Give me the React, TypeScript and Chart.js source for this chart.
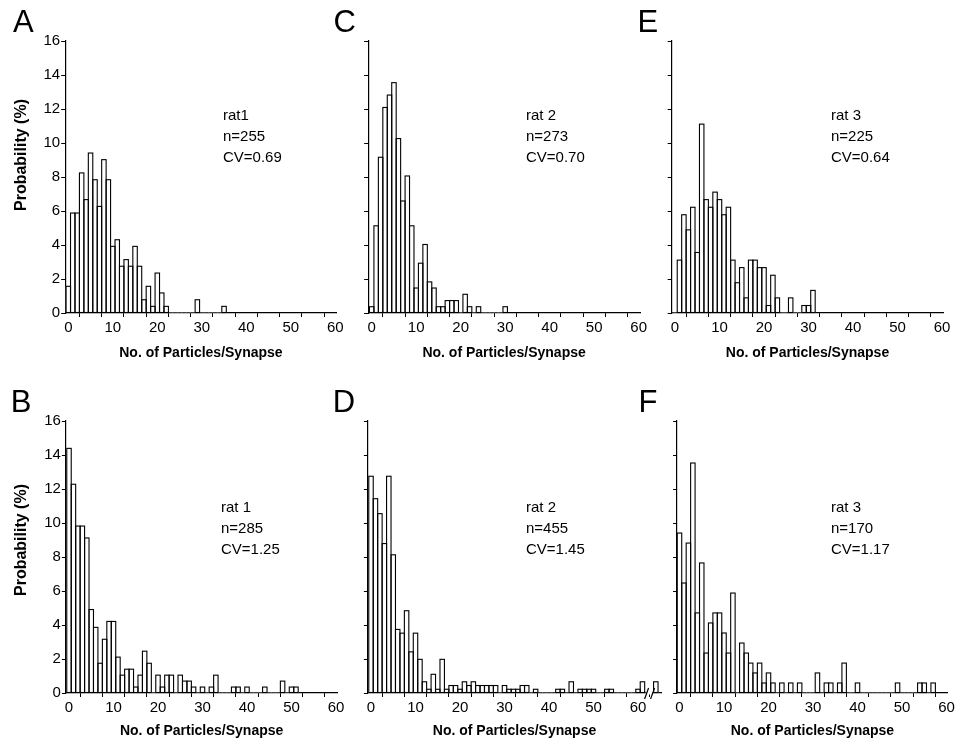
import React, { useEffect, useRef } from 'react';
import { Chart, registerables } from 'chart.js';

Chart.register(...registerables);

const FONT_FAMILY = '"Liberation Sans", Arial, Helvetica, sans-serif';

// ---------------- data: probability (%) per 1-particle bin (index = particles/synapse) ----------------
const rat1SetA = [
  1.57, 5.88, 5.88, 8.24, 6.67, 9.41, 7.84, 6.27, 9.02, 7.84,
  3.92, 4.31, 2.75, 3.14, 2.75, 3.92, 2.75, 0.78, 1.57, 0.39,
  2.35, 1.18, 0.39, 0, 0, 0, 0, 0, 0, 0.78,
  0, 0, 0, 0, 0, 0.39,
];
const rat2SetC = [
  0.37, 5.13, 9.16, 12.09, 12.82, 13.55, 10.26, 6.59, 8.06, 5.13,
  1.47, 2.93, 4.03, 1.83, 1.47, 0.37, 0.37, 0.73, 0.73, 0.73,
  0, 1.1, 0.37, 0, 0.37, 0, 0, 0, 0, 0,
  0.37,
];
const rat3SetE = [
  0, 3.11, 5.78, 4.89, 6.22, 3.56, 11.11, 6.67, 6.22, 7.11,
  6.67, 5.78, 6.22, 3.11, 1.78, 2.67, 0.89, 3.11, 3.11, 2.67,
  2.67, 0.44, 2.22, 0.89, 0, 0, 0.89, 0, 0, 0.44,
  0.44, 1.33,
];
const rat1SetB = [
  14.39, 12.28, 9.82, 9.82, 9.12, 4.91, 3.86, 1.75, 3.16, 4.21,
  4.21, 2.11, 1.05, 1.4, 1.4, 0.35, 1.05, 2.46, 1.75, 0,
  1.05, 0.35, 1.05, 1.05, 0, 1.05, 0.7, 0.7, 0.35, 0,
  0.35, 0, 0.35, 1.05, 0, 0, 0, 0.35, 0.35, 0,
  0.35, 0, 0, 0, 0.35, 0, 0, 0, 0.7, 0,
  0.35, 0.35,
];
const rat2SetD = [
  12.75, 11.43, 10.55, 8.79, 12.75, 8.13, 3.74, 3.52, 4.84, 2.42,
  3.52, 1.98, 0.66, 0.22, 1.1, 0.22, 1.98, 0.22, 0.44, 0.44,
  0.22, 0.66, 0.44, 0.66, 0.44, 0.44, 0.44, 0.44, 0.44, 0,
  0.44, 0.22, 0.22, 0.22, 0.44, 0.44, 0, 0.22, 0, 0,
  0, 0, 0.22, 0.22, 0, 0.66, 0, 0.22, 0.22, 0.22,
  0.22, 0, 0, 0.22, 0.22, 0, 0, 0, 0, 0,
  0.22, 0.66, 0, 0, 0.66,
];
const rat3SetF = [
  9.41, 6.47, 8.82, 13.53, 4.71, 7.65, 2.35, 4.12, 4.71, 4.71,
  3.53, 2.35, 5.88, 0, 2.94, 2.35, 1.76, 1.18, 1.76, 0.59,
  1.18, 0.59, 0, 0.59, 0, 0.59, 0, 0.59, 0, 0,
  0, 1.18, 0, 0.59, 0.59, 0, 0.59, 1.76, 0, 0,
  0.59, 0, 0, 0, 0, 0, 0, 0, 0, 0.59,
  0, 0, 0, 0, 0.59, 0.59, 0, 0.59,
];

const xTickValues = [0, 5, 10, 15, 20, 25, 30, 35, 40, 45, 50, 55, 60];
const xLabelledTicks = [0, 10, 20, 30, 40, 50, 60];
const yTickValues = [0, 2, 4, 6, 8, 10, 12, 14, 16];

const panelLetters = ['A', 'C', 'E', 'B', 'D', 'F'];
const ratNames = ['rat1', 'rat 2', 'rat 3', 'rat 1', 'rat 2', 'rat 3'];
const nLabels = ['n=255', 'n=273', 'n=225', 'n=285', 'n=455', 'n=170'];
const cvLabels = ['CV=0.69', 'CV=0.70', 'CV=0.64', 'CV=1.25', 'CV=1.45', 'CV=1.17'];

const X_TITLE = 'No. of Particles/Synapse';
const Y_TITLE = 'Probability (%)';

// ---------------- layout ----------------
const PPU = 4.45; // pixels per particle bin
const PLOT_H = 272;
const PAD_TOP = 12;
const NOTE_LINE = 21;

type PanelCfg = {
  data: number[];
  x0: number;
  xMin: number;
  xMax: number;
  plotTop: number;
  xH: number;
  labels: boolean;
  breakAt?: number;
  letterX: number;
  letterY: number;
  noteX: number;
  noteY: number;
};

const panels: PanelCfg[] = [
  { data: rat1SetA, x0: 68.3, xMin: -0.7, xMax: 60.3, plotTop: 41, xH: 49, labels: true, letterX: 13, letterY: 5.8, noteX: 223, noteY: 107 },
  { data: rat2SetC, x0: 371.7, xMin: -0.8, xMax: 60.3, plotTop: 41, xH: 49, labels: false, letterX: 333.5, letterY: 5.8, noteX: 526, noteY: 107 },
  { data: rat3SetE, x0: 675, xMin: -0.75, xMax: 60.3, plotTop: 41, xH: 49, labels: false, letterX: 637.5, letterY: 5.8, noteX: 831, noteY: 107 },
  { data: rat1SetB, x0: 69, xMin: -0.7, xMax: 60.3, plotTop: 421, xH: 47, labels: true, letterX: 10.7, letterY: 385.8, noteX: 221, noteY: 499 },
  { data: rat2SetD, x0: 371, xMin: -0.7, xMax: 65.2, plotTop: 421, xH: 47, labels: false, breakAt: 62.6, letterX: 332.7, letterY: 385.8, noteX: 526, noteY: 499 },
  { data: rat3SetF, x0: 679.5, xMin: -0.55, xMax: 60.3, plotTop: 421, xH: 47, labels: false, letterX: 638.5, letterY: 385.8, noteX: 831, noteY: 499 },
];

const yTitleCenters = [155, 540];

const outlinePlugin = {
  id: 'histOutline',
  afterDatasetsDraw(chart: any) {
    const ctx = chart.ctx;
    const meta = chart.getDatasetMeta(0);
    const values = chart.data.datasets[0].data as { x: number; y: number }[];
    ctx.save();
    ctx.strokeStyle = '#000';
    ctx.lineWidth = 1.1;
    meta.data.forEach((bar: any, i: number) => {
      if (!values[i] || !values[i].y) return;
      const { x, y, base, width } = bar.getProps(['x', 'y', 'base', 'width'], true);
      ctx.strokeRect(x - width / 2, y, width, base - y);
    });
    ctx.restore();
  },
};

const breakPlugin = {
  id: 'axisBreak',
  afterDraw(chart: any, _args: any, opts: any) {
    if (!opts || opts.at == null) return;
    const xs = chart.scales.x;
    const px = xs.getPixelForValue(opts.at);
    const py = chart.chartArea.bottom;
    const ctx = chart.ctx;
    ctx.save();
    ctx.fillStyle = '#fff';
    ctx.fillRect(px - 3, py - 1.5, 6, 3);
    ctx.strokeStyle = '#000';
    ctx.lineWidth = 1.2;
    ctx.beginPath();
    ctx.moveTo(px - 5, py + 6);
    ctx.lineTo(px - 1, py - 5);
    ctx.moveTo(px + 1, py + 6);
    ctx.lineTo(px + 5, py - 5);
    ctx.stroke();
    ctx.restore();
  },
};

function geometry(p: PanelCfg) {
  const plotLeft = p.x0 + p.xMin * PPU;
  const plotW = (p.xMax - p.xMin) * PPU;
  const left = p.labels ? 0 : Math.floor(plotLeft - 10);
  const yW = plotLeft - left;
  const width = Math.ceil(yW + plotW + 12);
  const padRight = width - yW - plotW;
  const top = p.plotTop - PAD_TOP;
  const height = PAD_TOP + PLOT_H + p.xH;
  return { left, top, width, height, yW, padRight };
}

function Panel({ p }: { p: PanelCfg }) {
  const ref = useRef<HTMLCanvasElement>(null);
  const g = geometry(p);
  useEffect(() => {
    if (!ref.current) return;
    const chart = new Chart(ref.current, {
      type: 'bar',
      data: {
        datasets: [
          {
            data: p.data.map((v, i) => ({ x: i, y: v })),
            backgroundColor: '#fff',
            borderWidth: 0,
            barPercentage: 1,
            categoryPercentage: 1,
          },
        ],
      },
      plugins: [outlinePlugin, breakPlugin],
      options: {
        animation: false,
        responsive: false,
        devicePixelRatio: 1,
        events: [],
        layout: { padding: { top: PAD_TOP, right: g.padRight, left: 0, bottom: 0 } },
        plugins: {
          legend: { display: false },
          tooltip: { enabled: false },
          axisBreak: { at: p.breakAt },
        } as any,
        scales: {
          x: {
            type: 'linear',
            min: p.xMin,
            max: p.xMax,
            offset: false,
            z: 1,
            afterBuildTicks: (s: any) => {
              s.ticks = xTickValues.map((v) => ({ value: v }));
            },
            afterFit: (s: any) => {
              s.height = p.xH;
            },
            ticks: {
              autoSkip: false,
              maxRotation: 0,
              padding: 2,
              color: '#000',
              font: { family: FONT_FAMILY, size: 15 },
              callback: (v: any) => (xLabelledTicks.includes(Number(v)) ? String(v) : ''),
            },
            grid: { display: true, drawOnChartArea: false, drawTicks: true, tickLength: 4, color: '#000', tickColor: '#000' },
            border: { display: true, color: '#000', width: 1.2 },
            title: {
              display: true,
              text: X_TITLE,
              color: '#000',
              padding: 0,
              font: { family: FONT_FAMILY, size: 14, weight: 'bold' },
            },
          },
          y: {
            type: 'linear',
            min: 0,
            max: 16,
            z: 1,
            afterBuildTicks: (s: any) => {
              s.ticks = yTickValues.map((v) => ({ value: v }));
            },
            afterFit: (s: any) => {
              s.width = g.yW;
            },
            ticks: {
              padding: 1,
              color: '#000',
              font: { family: FONT_FAMILY, size: 15 },
              callback: (v: any) => (p.labels ? String(v) : ''),
            },
            grid: { display: true, drawOnChartArea: false, drawTicks: true, tickLength: 4, color: '#000', tickColor: '#000' },
            border: { display: true, color: '#000', width: 1.2 },
          },
        },
      } as any,
    });
    return () => chart.destroy();
  }, []);
  return (
    <canvas
      ref={ref}
      width={g.width}
      height={g.height}
      style={{ position: 'absolute', left: g.left, top: g.top, width: g.width, height: g.height }}
    />
  );
}

const textBase: React.CSSProperties = {
  position: 'absolute',
  fontFamily: FONT_FAMILY,
  color: '#000',
  whiteSpace: 'nowrap',
  lineHeight: 1,
};

export default function App() {
  return (
    <div style={{ position: 'fixed', left: 0, top: 0, width: 962, height: 741, overflow: 'hidden', background: '#fff' }}>
      {panels.map((p, i) => (
        <Panel key={i} p={p} />
      ))}
      {panels.map((p, i) => (
        <React.Fragment key={'t' + i}>
          <div style={{ ...textBase, left: p.letterX, top: p.letterY, fontSize: 31 }}>{panelLetters[i]}</div>
          <div style={{ ...textBase, left: p.noteX, top: p.noteY, fontSize: 15 }}>{ratNames[i]}</div>
          <div style={{ ...textBase, left: p.noteX, top: p.noteY + NOTE_LINE, fontSize: 15 }}>{nLabels[i]}</div>
          <div style={{ ...textBase, left: p.noteX, top: p.noteY + 2 * NOTE_LINE, fontSize: 15 }}>{cvLabels[i]}</div>
        </React.Fragment>
      ))}
      {yTitleCenters.map((cy, i) => (
        <div
          key={'y' + i}
          style={{
            ...textBase,
            left: 21,
            top: cy,
            fontSize: 16,
            fontWeight: 'bold',
            transform: 'translate(-50%, -50%) rotate(-90deg)',
          }}
        >
          {Y_TITLE}
        </div>
      ))}
    </div>
  );
}
